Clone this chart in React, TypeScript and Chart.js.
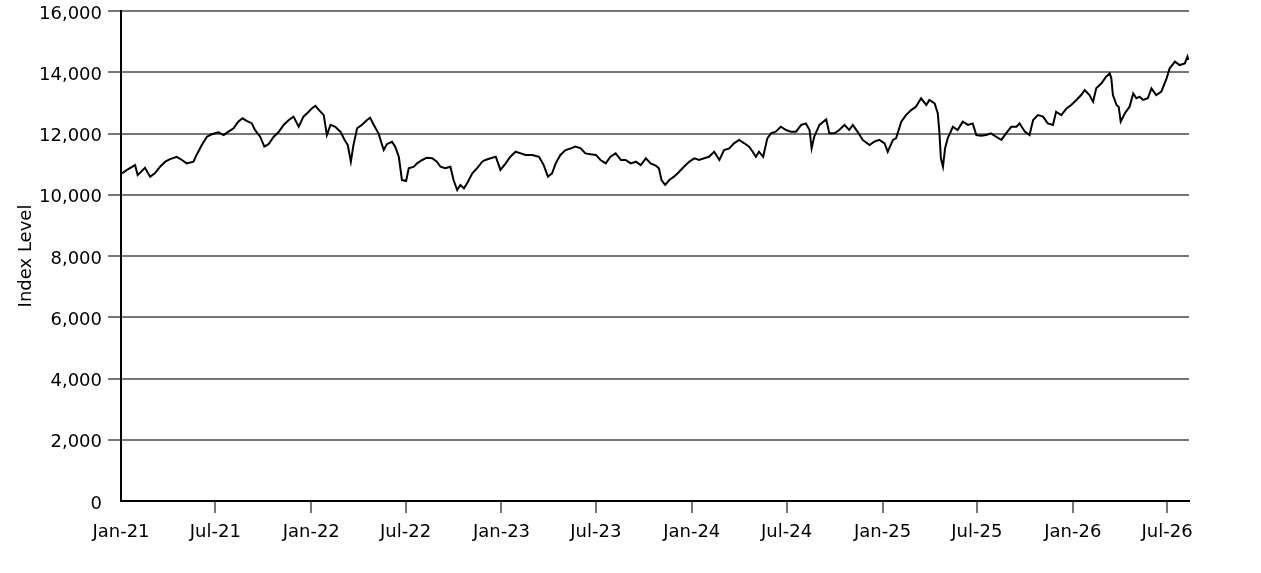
import React, { useEffect, useRef } from "react";
import { Chart, registerables } from "chart.js";

Chart.register(...registerables);

const dates: string[] = [
  "2021-01-03","2021-01-15","2021-01-28","2021-02-02","2021-02-16","2021-02-26","2021-03-07","2021-03-17","2021-03-27","2021-04-05",
  "2021-04-18","2021-04-28","2021-05-07","2021-05-20","2021-05-26","2021-06-05","2021-06-15","2021-06-24","2021-07-07","2021-07-17",
  "2021-07-26","2021-08-05","2021-08-14","2021-08-22","2021-08-30","2021-09-09","2021-09-15","2021-09-25","2021-10-03","2021-10-11",
  "2021-10-21","2021-10-30","2021-11-09","2021-11-19","2021-11-28","2021-12-08","2021-12-17","2021-12-27","2022-01-02","2022-01-09",
  "2022-01-16","2022-01-25","2022-01-31","2022-02-07","2022-02-16","2022-02-26","2022-03-06","2022-03-12","2022-03-18","2022-03-23",
  "2022-03-30","2022-04-08","2022-04-18","2022-04-24","2022-05-01","2022-05-10","2022-05-20","2022-05-26","2022-06-05","2022-06-11",
  "2022-06-18","2022-06-24","2022-07-02","2022-07-07","2022-07-17","2022-07-23","2022-08-02","2022-08-11","2022-08-21","2022-08-30",
  "2022-09-06","2022-09-15","2022-09-25","2022-10-01","2022-10-08","2022-10-14","2022-10-21","2022-10-27","2022-11-06","2022-11-15",
  "2022-11-25","2022-12-01","2022-12-11","2022-12-21","2022-12-30","2023-01-09","2023-01-18","2023-01-28","2023-02-07","2023-02-16",
  "2023-03-01","2023-03-14","2023-03-23","2023-03-31","2023-04-08","2023-04-15","2023-04-24","2023-05-04","2023-05-14","2023-05-23",
  "2023-06-02","2023-06-11","2023-06-21","2023-07-01","2023-07-10","2023-07-20","2023-07-29","2023-08-08","2023-08-18","2023-08-27",
  "2023-09-06","2023-09-16","2023-09-25","2023-10-05","2023-10-14","2023-10-24","2023-10-30","2023-11-04","2023-11-11","2023-11-19",
  "2023-11-28","2023-12-08","2023-12-17","2023-12-27","2024-01-06","2024-01-15","2024-01-25","2024-02-03","2024-02-13","2024-02-23",
  "2024-03-03","2024-03-13","2024-03-22","2024-04-01","2024-04-11","2024-04-20","2024-04-27","2024-05-03","2024-05-09","2024-05-17",
  "2024-05-25","2024-06-01","2024-06-10","2024-06-20","2024-06-30","2024-07-09","2024-07-19","2024-07-29","2024-08-07","2024-08-14",
  "2024-08-18","2024-08-23","2024-09-02","2024-09-15","2024-09-21","2024-10-01","2024-10-10","2024-10-20","2024-10-29","2024-11-05",
  "2024-11-14","2024-11-24","2024-12-07","2024-12-16","2024-12-26","2025-01-05","2025-01-11","2025-01-21","2025-01-27","2025-02-06",
  "2025-02-15","2025-02-25","2025-03-06","2025-03-16","2025-03-26","2025-04-01","2025-04-11","2025-04-17","2025-04-20","2025-04-23",
  "2025-04-27","2025-05-01","2025-05-06","2025-05-16","2025-05-25","2025-06-04","2025-06-14","2025-06-23","2025-06-30","2025-07-09",
  "2025-07-19","2025-07-28","2025-08-07","2025-08-17","2025-08-26","2025-09-05","2025-09-15","2025-09-21","2025-10-01","2025-10-10",
  "2025-10-17","2025-10-26","2025-11-05","2025-11-14","2025-11-24","2025-11-30","2025-12-10","2025-12-20","2025-12-29","2026-01-08",
  "2026-01-17","2026-01-24","2026-02-02","2026-02-09","2026-02-15","2026-02-25","2026-03-06","2026-03-13","2026-03-16","2026-03-19",
  "2026-03-26","2026-03-30","2026-04-03","2026-04-11","2026-04-20","2026-04-27","2026-05-03","2026-05-09","2026-05-16","2026-05-25",
  "2026-06-01","2026-06-10","2026-06-20","2026-06-30","2026-07-06","2026-07-16","2026-07-25","2026-08-04","2026-08-09","2026-08-11",
];

const indexLevel: number[] = [
  10700,10840,10970,10640,10880,10590,10700,10915,11080,11165,
  11240,11135,11025,11080,11300,11625,11895,11975,12040,11950,
  12060,12170,12385,12495,12410,12330,12115,11895,11570,11650,
  11895,12040,12280,12440,12550,12220,12550,12710,12820,12905,
  12765,12600,11950,12280,12220,12060,11790,11625,11080,11625,
  12170,12280,12440,12515,12280,12005,11460,11650,11730,11570,
  11240,10480,10450,10865,10915,11025,11135,11210,11190,11080,
  10915,10865,10915,10480,10155,10320,10210,10375,10700,10865,
  11080,11135,11190,11240,10810,11025,11240,11405,11350,11300,
  11300,11240,10970,10590,10700,11025,11300,11460,11515,11570,
  11515,11350,11320,11300,11135,11025,11240,11350,11135,11135,
  11025,11080,10970,11190,11025,10950,10865,10480,10320,10480,
  10590,10750,10915,11080,11190,11135,11190,11240,11405,11135,
  11460,11515,11680,11790,11680,11570,11405,11240,11405,11240,
  11840,12005,12060,12220,12115,12060,12060,12280,12330,12115,
  11515,11895,12280,12460,12005,12005,12115,12280,12115,12280,
  12060,11790,11625,11730,11790,11680,11405,11790,11840,12385,
  12600,12765,12875,13150,12930,13095,12985,12660,12060,11190,
  10915,11515,11840,12220,12115,12385,12280,12330,11950,11930,
  11950,12005,11895,11790,12005,12220,12220,12330,12060,11950,
  12440,12600,12550,12330,12280,12710,12600,12820,12930,13095,
  13255,13420,13255,13040,13475,13640,13855,13965,13800,13255,
  12930,12875,12385,12660,12875,13310,13150,13200,13095,13150,
  13475,13255,13365,13800,14130,14345,14235,14290,14510,14400,
];

const tickDates: string[] = [
  "2021-01-01","2021-07-01","2022-01-01","2022-07-01","2023-01-01","2023-07-01",
  "2024-01-01","2024-07-01","2025-01-01","2025-07-01","2026-01-01","2026-07-01",
];
const tickLabels: string[] = [
  "Jan-21","Jul-21","Jan-22","Jul-22","Jan-23","Jul-23",
  "Jan-24","Jul-24","Jan-25","Jul-25","Jan-26","Jul-26",
];
const axisStart = "2021-01-01";
const axisEnd = "2026-08-12";

const toDay = (s: string): number => {
  const [y, m, d] = s.split("-").map(Number);
  return (Date.UTC(y, m - 1, d) - Date.UTC(2021, 0, 1)) / 86400000;
};

export default function App() {
  const ref = useRef<HTMLCanvasElement | null>(null);

  useEffect(() => {
    if (!ref.current) return;
    Chart.defaults.font.family = "'DejaVu Sans', sans-serif";
    Chart.defaults.font.size = 18;
    Chart.defaults.color = "#000";
    const tickDays = tickDates.map(toDay);
    const chart = new Chart(ref.current, {
      type: "line",
      data: {
        datasets: [
          {
            label: "Index Level",
            data: dates.map((d, i) => ({ x: toDay(d), y: indexLevel[i] })),
            borderColor: "#000",
            borderWidth: 2,
            pointRadius: 0,
            tension: 0,
            fill: false,
          },
        ],
      },
      options: {
        animation: false,
        responsive: true,
        maintainAspectRatio: false,
        layout: { padding: { top: 11, right: 72, left: 0, bottom: 0 } },
        plugins: { legend: { display: false }, tooltip: { enabled: false } },
        scales: {
          x: {
            type: "linear",
            min: toDay(axisStart),
            max: toDay(axisEnd),
            afterFit: (scale: any) => {
              scale.height = 72;
              scale.paddingLeft = 0;
              scale.paddingRight = 0;
            },
            afterBuildTicks: (scale: any) => {
              scale.ticks = tickDays.map((v) => ({ value: v }));
            },
            ticks: {
              autoSkip: false,
              maxRotation: 0,
              padding: 9,
              color: "#000",
              font: { size: 18 },
              callback: (v: any) => {
                const i = tickDays.indexOf(Number(v));
                return i >= 0 ? tickLabels[i] : "";
              },
            },
            grid: {
              drawOnChartArea: false,
              drawTicks: true,
              tickLength: 12,
              lineWidth: 2,
              tickColor: (ctx: any) => (ctx.index === 0 ? "rgba(0,0,0,0)" : "#777"),
            },
            border: { color: "#000", width: 2 },
          },
          y: {
            min: 0,
            max: 16000,
            afterFit: (scale: any) => {
              scale.width = 121;
              scale.paddingTop = 0;
              scale.paddingBottom = 0;
            },
            ticks: {
              stepSize: 2000,
              padding: 6,
              labelOffset: 3,
              color: "#000",
              font: { size: 18 },
              callback: (v: any) => Number(v).toLocaleString("en-US"),
            },
            grid: {
              color: "#777",
              lineWidth: 2,
              drawTicks: true,
              tickLength: 13,
              tickColor: (ctx: any) => (ctx.tick && ctx.tick.value === 0 ? "rgba(0,0,0,0)" : "#777"),
            },
            border: { color: "#000", width: 2 },
            title: {
              display: true,
              text: "Index Level",
              color: "#000",
              font: { size: 18 },
              padding: { top: 16, bottom: 4 },
            },
          },
        },
      },
    });
    return () => chart.destroy();
  }, []);

  return (
    <div style={{ position: "fixed", left: 0, top: 0, width: 1261, height: 573, background: "#fff" }}>
      <canvas ref={ref} />
    </div>
  );
}
